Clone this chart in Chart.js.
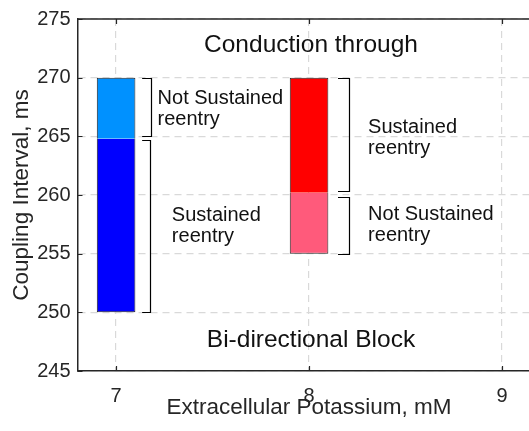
<!DOCTYPE html>
<html>
<head>
<meta charset="utf-8">
<script src="https://cdn.jsdelivr.net/npm/chart.js@4.4.0/dist/chart.umd.min.js"></script>
<style>
   html, body { margin: 0; padding: 0; background: #fff; overflow: hidden; }
   canvas { display: block; }
</style>
</head>
<body>
<canvas id="reentryChart" width="545" height="431"></canvas>
<script>
// Extracellular potassium (mM) and coupling interval ranges (ms) per outcome
const potassium = [7, 8];
const upperRange = [[264.8, 270], [260.2, 270]];
const lowerRange = [[250, 264.8], [255, 260.2]];
const upperColors = ['#0091ff', '#ff0000'];
const lowerColors = ['#0000ff', '#ff5a7b'];

const xTicks = [7, 8, 9];
const yTicks = [245, 250, 255, 260, 265, 270, 275];

// Bracketed intervals and the outcome written next to each
const bracketSpans = [[265, 270], [250, 264.7], [260.3, 270], [255, 259.8]];
const bracketText = [
   ['Not Sustained', 'reentry'],
   ['Sustained', 'reentry'],
   ['Sustained', 'reentry'],
   ['Not Sustained', 'reentry']
];
const regionText = ['Conduction through', 'Bi-directional Block'];

const FONT = '"Liberation Sans", Arial, Helvetica, sans-serif';
const AXIS_COLOR = '#262626';
const GRID_COLOR = '#d9d9d9';

// bracket x extents and text anchors, in axis units
const bracketX = [[7.135, 7.181], [7.135, 7.177], [8.15, 8.209], [8.15, 8.209]];
const textAnchor = [[7.215, 267.76], [7.289, 257.76], [8.306, 265.3], [8.306, 257.85]];
const regionAnchor = [[8.01, 272.8], [8.01, 247.6]];

const overlay = {
   id: 'overlay',
   afterDraw(chart) {
      const { ctx, chartArea: a, scales: { x, y } } = chart;
      ctx.save();

      // remaining box edges
      ctx.strokeStyle = AXIS_COLOR;
      ctx.lineWidth = 1.5;
      ctx.beginPath();
      ctx.moveTo(a.left, a.top);
      ctx.lineTo(a.right, a.top);
      ctx.lineTo(a.right, a.bottom);
      ctx.stroke();

      // inward tick marks
      ctx.lineWidth = 1.2;
      ctx.beginPath();
      xTicks.forEach(v => {
         const px = Math.round(x.getPixelForValue(v)) + 0.5;
         ctx.moveTo(px, a.bottom);
         ctx.lineTo(px, a.bottom - 5);
         ctx.moveTo(px, a.top);
         ctx.lineTo(px, a.top + 5);
      });
      yTicks.forEach(v => {
         const py = Math.round(y.getPixelForValue(v)) + 0.5;
         ctx.moveTo(a.left, py);
         ctx.lineTo(a.left + 5, py);
         ctx.moveTo(a.right, py);
         ctx.lineTo(a.right - 5, py);
      });
      ctx.stroke();

      // brackets
      ctx.strokeStyle = '#000';
      ctx.lineWidth = 1.2;
      bracketSpans.forEach((span, i) => {
         const x0 = x.getPixelForValue(bracketX[i][0]);
         const x1 = Math.round(x.getPixelForValue(bracketX[i][1])) + 0.5;
         const yLo = Math.round(y.getPixelForValue(span[0])) + 0.5;
         const yHi = Math.round(y.getPixelForValue(span[1])) + 0.5;
         ctx.beginPath();
         ctx.moveTo(x0, yHi);
         ctx.lineTo(x1, yHi);
         ctx.lineTo(x1, yLo);
         ctx.lineTo(x0, yLo);
         ctx.stroke();
      });

      // outcome labels
      ctx.fillStyle = '#111';
      ctx.font = '20px ' + FONT;
      ctx.textAlign = 'left';
      ctx.textBaseline = 'alphabetic';
      bracketText.forEach((lines, i) => {
         const px = x.getPixelForValue(textAnchor[i][0]);
         const py = y.getPixelForValue(textAnchor[i][1]);
         lines.forEach((line, j) => ctx.fillText(line, px, py + j * 21));
      });

      // region labels
      ctx.font = '24.5px ' + FONT;
      ctx.textAlign = 'center';
      ctx.textBaseline = 'middle';
      regionText.forEach((t, i) => {
         ctx.fillText(t, x.getPixelForValue(regionAnchor[i][0]), y.getPixelForValue(regionAnchor[i][1]));
      });

      ctx.restore();
   }
};

const barStyle = {
   borderColor: AXIS_COLOR,
   borderWidth: 1,
   grouped: false,
   categoryPercentage: 1,
   barPercentage: 0.2
};

const ctx = document.getElementById('reentryChart').getContext('2d');
new Chart(ctx, {
   type: 'bar',
   data: {
      datasets: [
         {
            label: 'upper',
            data: potassium.map((k, i) => ({ x: k, y: upperRange[i] })),
            backgroundColor: upperColors,
            borderSkipped: 'bottom',
            ...barStyle
         },
         {
            label: 'lower',
            data: potassium.map((k, i) => ({ x: k, y: lowerRange[i] })),
            backgroundColor: lowerColors,
            borderSkipped: 'top',
            ...barStyle
         }
      ]
   },
   options: {
      responsive: false,
      animation: false,
      layout: {
         padding: { top: 16, right: 4.4, bottom: 0, left: 0 }
      },
      plugins: {
         legend: { display: false },
         tooltip: { enabled: false }
      },
      scales: {
         x: {
            type: 'linear',
            min: 6.8,
            max: 9.2,
            offset: false,
            afterBuildTicks: scale => { scale.ticks = xTicks.map(v => ({ value: v })); },
            afterFit: scale => { scale.height = 60; },
            ticks: {
               padding: 13,
               color: AXIS_COLOR,
               font: { family: FONT, size: 20 }
            },
            grid: { color: GRID_COLOR, lineWidth: 1.2, drawTicks: false, offset: false },
            border: { display: true, color: AXIS_COLOR, width: 1.5, dash: [7, 5] },
            title: {
               display: true,
               text: 'Extracellular Potassium, mM',
               color: AXIS_COLOR,
               font: { family: FONT, size: 22.5 },
               padding: { top: 0, bottom: 9.5 }
            }
         },
         y: {
            min: 245,
            max: 275,
            afterBuildTicks: scale => { scale.ticks = yTicks.map(v => ({ value: v })); },
            afterFit: scale => { scale.width = 77.5; },
            ticks: {
               padding: 7,
               color: AXIS_COLOR,
               font: { family: FONT, size: 20 }
            },
            grid: { color: GRID_COLOR, lineWidth: 1.2, drawTicks: false },
            border: { display: true, color: AXIS_COLOR, width: 1.5, dash: [7, 5] },
            title: {
               display: true,
               text: 'Coupling Interval, ms',
               color: AXIS_COLOR,
               font: { family: FONT, size: 22.5 },
               padding: { top: 8.5, bottom: 0 }
            }
         }
      }
   },
   plugins: [overlay]
});
</script>
</body>
</html>
